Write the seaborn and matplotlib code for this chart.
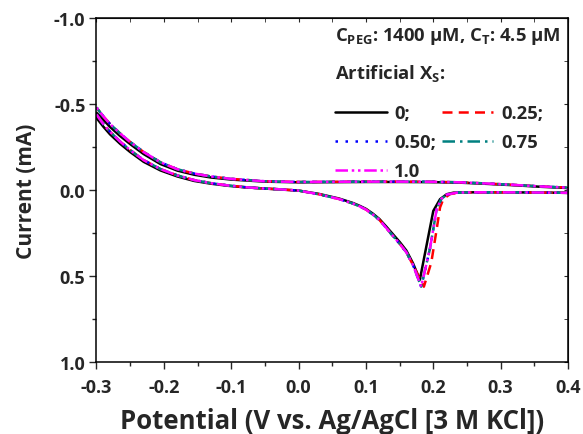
import pandas as pd
import matplotlib
matplotlib.use("Agg")
import matplotlib.pyplot as plt
from matplotlib.ticker import MultipleLocator, FormatStrFormatter
import seaborn as sns

# series labels (as in the legend) and styles
series = ["0;", "0.25;", "0.50;", "0.75", "1.0"]
colors = ["black", "#ff0000", "#0000ff", "#008080", "#ff00ff"]

# forward scan, common start (potential V, current mA)
start_x = [-0.30, -0.29, -0.28, -0.265, -0.25, -0.23, -0.205, -0.18, -0.155, -0.13, -0.105,
           -0.08, -0.055, -0.03, 0.00, 0.03, 0.06, 0.08, 0.09, 0.10, 0.11, 0.12, 0.13,
           0.14, 0.15, 0.16, 0.17]
start_black = [-0.42, -0.37, -0.325, -0.27, -0.222, -0.165, -0.115, -0.08, -0.054, -0.038,
               -0.026, -0.017, -0.011, -0.005, 0.002, 0.021, 0.048, 0.073, 0.089, 0.108,
               0.135, 0.167, 0.21, 0.255, 0.3, 0.35, 0.425]
start_other = [-0.44, -0.385, -0.34, -0.283, -0.233, -0.175, -0.123, -0.086, -0.059, -0.041,
               -0.028, -0.018, -0.011, -0.006, 0.002, 0.023, 0.051, 0.076, 0.092, 0.112,
               0.14, 0.172, 0.218, 0.265, 0.31, 0.36, 0.435]

# peak region
peak_x_black = [0.18, 0.19, 0.20, 0.21, 0.22, 0.23]
peak_y_black = [0.52, 0.32, 0.12, 0.052, 0.023, 0.014]
peak_x_red = [0.186, 0.197, 0.205, 0.21, 0.215, 0.225, 0.24]
peak_y_red = [0.56, 0.42, 0.227, 0.10, 0.05, 0.022, 0.014]
peak_x_other = [0.182, 0.195, 0.205, 0.212, 0.22, 0.235]
peak_y_other = [0.56, 0.34, 0.11, 0.05, 0.025, 0.014]

# end of forward scan
tail_x = [0.26, 0.30, 0.35, 0.40]
tail_y = [0.012, 0.012, 0.013, 0.015]

# reverse scan
rev_x = [0.40, 0.36, 0.32, 0.28, 0.24, 0.20, 0.15, 0.10, 0.05, 0.00, -0.05, -0.10,
         -0.13, -0.155, -0.18, -0.205, -0.23, -0.25, -0.265, -0.28, -0.29, -0.30]
rev_black = [-0.013, -0.02, -0.029, -0.037, -0.044, -0.047, -0.048, -0.048, -0.047, -0.046,
             -0.05, -0.062, -0.074, -0.09, -0.114, -0.152, -0.21, -0.268, -0.315, -0.368,
             -0.41, -0.45]
rev_other = [-0.015, -0.022, -0.031, -0.039, -0.046, -0.049, -0.05, -0.05, -0.049, -0.048,
             -0.052, -0.066, -0.08, -0.097, -0.122, -0.162, -0.222, -0.28, -0.33, -0.385,
             -0.43, -0.48]

frames = []
for name in series:
    if name == "0;":
        st, px, py, rv = start_black, peak_x_black, peak_y_black, rev_black
    elif name == "0.25;":
        st, px, py, rv = start_other, peak_x_red, peak_y_red, rev_other
    else:
        st, px, py, rv = start_other, peak_x_other, peak_y_other, rev_other
    xs = start_x + px + tail_x + rev_x
    ys = st + py + tail_y + rv
    frames.append(pd.DataFrame({"Potential": xs, "Current": ys, "series": name}))
df = pd.concat(frames, ignore_index=True)

sns.set_style("white")
plt.rcParams["font.family"] = ["Open Sans", "DejaVu Sans"]
plt.rcParams["font.weight"] = "bold"
plt.rcParams["axes.unicode_minus"] = False
plt.rcParams["mathtext.fontset"] = "custom"
plt.rcParams["mathtext.rm"] = "Open Sans:bold"
plt.rcParams["mathtext.it"] = "Open Sans:bold:italic"
plt.rcParams["mathtext.bf"] = "Open Sans:bold"

fig = plt.figure(figsize=(5.83, 4.35), dpi=100)
ax = fig.add_axes([0.1655, 0.1644, 0.8088, 0.7919])

dashes = {"0;": "", "0.25;": (4, 2.5), "0.50;": (1, 3), "0.75": (5, 2, 1, 2),
          "1.0": (5, 1.5, 1, 1.5, 1, 1.5)}
sns.lineplot(data=df, x="Potential", y="Current", hue="series", style="series",
             palette=dict(zip(series, colors)), dashes=dashes, sort=False,
             estimator=None, linewidth=1.8, ax=ax)

ax.set_xlim(-0.3, 0.4)
ax.set_ylim(1.0, -1.0)
ax.xaxis.set_major_locator(MultipleLocator(0.1))
ax.xaxis.set_minor_locator(MultipleLocator(0.05))
ax.yaxis.set_major_locator(MultipleLocator(0.5))
ax.yaxis.set_minor_locator(MultipleLocator(0.25))
ax.xaxis.set_major_formatter(FormatStrFormatter("%.1f"))
ax.yaxis.set_major_formatter(FormatStrFormatter("%.1f"))
ax.tick_params(which="major", direction="out", length=5, width=1, labelsize=13,
               bottom=True, left=True)
ax.tick_params(axis="x", which="major", pad=6)
ax.tick_params(axis="y", which="major", pad=3)
ax.tick_params(which="minor", direction="out", length=3, width=1, bottom=True, left=True)
for sp in ax.spines.values():
    sp.set_linewidth(1.1)
    sp.set_color("black")

# inward ticks on top and right
top = ax.secondary_xaxis("top")
top.xaxis.set_major_locator(MultipleLocator(0.1))
top.xaxis.set_minor_locator(MultipleLocator(0.05))
top.tick_params(which="both", direction="in", length=3, labeltop=False)
right = ax.secondary_yaxis("right")
right.yaxis.set_major_locator(MultipleLocator(0.5))
right.yaxis.set_minor_locator(MultipleLocator(0.25))
right.tick_params(which="both", direction="in", length=3, labelright=False)

ax.set_xlabel("Potential (V vs. Ag/AgCl [3 M KCl])", fontsize=18.5, fontweight="bold", labelpad=8)
ax.set_ylabel("Current (mA)", fontsize=15, fontweight="bold", labelpad=12)

handles, labels = ax.get_legend_handles_labels()
order = [0, 2, 4, 1, 3]
title = ("C$_{\\mathrm{PEG}}$: 1400 \u03bcM, C$_{\\mathrm{T}}$: 4.5 \u03bcM\n"
         "Artificial X$_{\\mathrm{S}}$:")
leg = ax.legend([handles[i] for i in order], [labels[i] for i in order], ncol=2,
                loc="upper right", bbox_to_anchor=(1.0, 1.0), frameon=False,
                title=title, alignment="left", handlelength=2.8, handletextpad=0.4,
                columnspacing=0.3, labelspacing=0.6, borderaxespad=0.0,
                prop={"weight": "bold", "size": 13.3},
                title_fontproperties={"weight": "bold", "size": 13.3})
leg.get_title().set_linespacing(2.0)
leg._legend_box.sep = 15  # extra gap between the title lines and the entries

fig.savefig("out.png", dpi=100)
